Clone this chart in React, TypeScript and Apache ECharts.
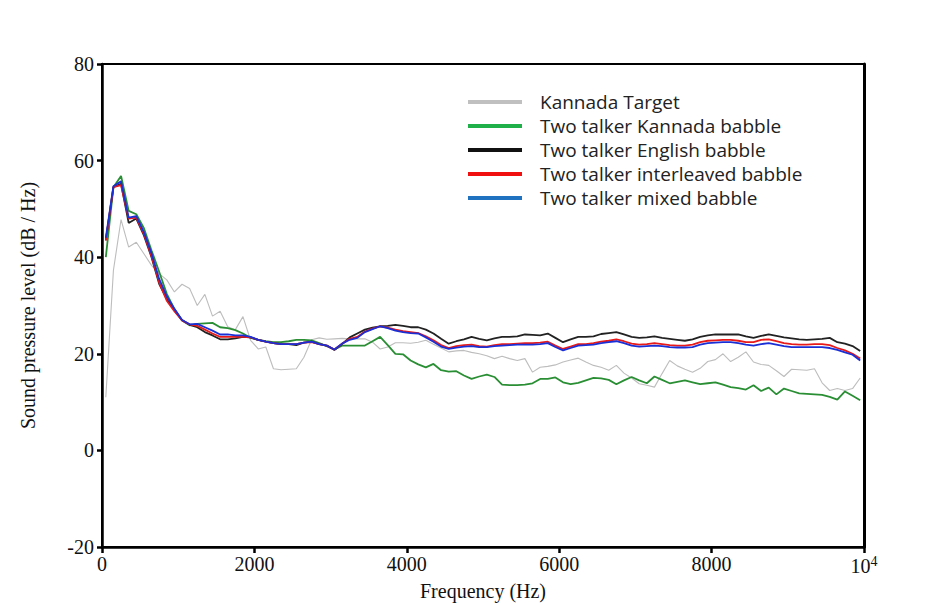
import React, { useEffect, useRef } from "react";
import * as echarts from "echarts";

const freqHz: number[] = Array.from({ length: 100 }, (_, i) => 50 + 100 * i);

const kannadaTarget = [
  11.0, 37.3, 47.8, 42.1, 43.1, 40.7, 38.3, 36.6, 35.3, 32.8,
  34.4, 33.5, 30.0, 32.3, 27.8, 28.8, 25.6, 25.0, 27.7, 22.8,
  21.0, 21.4, 16.9, 16.7, 16.8, 16.9, 19.3, 22.9, 23.3, 23.0,
  23.1, 23.2, 23.1, 23.1, 23.1, 22.4, 21.0, 21.4, 22.3, 22.3,
  22.2, 22.4, 22.8, 22.0, 21.2, 20.4, 20.6, 20.7, 20.3, 20.0,
  19.6, 19.0, 19.5, 19.0, 18.6, 19.0, 16.2, 17.2, 17.4, 17.7,
  18.3, 18.7, 19.1, 18.3, 17.6, 17.2, 16.6, 17.6, 16.0, 15.0,
  13.8, 13.5, 13.1, 15.9, 18.6, 17.5, 16.8, 16.2, 17.0, 18.4,
  18.8, 20.0, 18.4, 19.3, 20.4, 18.3, 17.8, 17.6, 16.5, 15.3,
  16.8, 16.7, 16.6, 16.9, 14.0, 12.4, 12.8, 12.4, 12.8, 15.0,
];

const kannadaBabble = [
  40.0, 54.5, 56.8, 49.6, 48.9, 46.0, 41.4, 37.0, 32.4, 29.3,
  26.9, 25.9, 26.2, 26.3, 26.4, 25.5, 25.3, 24.9, 24.2, 23.3,
  22.9, 22.6, 22.4, 22.4, 22.6, 22.9, 22.9, 22.8, 22.2, 21.6,
  20.9, 21.7, 21.7, 21.7, 21.7, 22.6, 23.5, 21.8, 20.0, 19.9,
  18.6, 17.8, 17.2, 17.9, 16.6, 16.3, 16.4, 15.5, 14.8, 15.3,
  15.7, 15.2, 13.6, 13.5, 13.5, 13.6, 13.9, 14.8, 14.8, 15.1,
  14.1, 13.7, 14.0, 14.5, 15.0, 14.9, 14.6, 13.7, 14.5, 15.2,
  14.5, 13.9, 15.3, 14.6, 13.9, 14.2, 14.5, 14.1, 13.7, 13.9,
  14.1, 13.6, 13.1, 12.9, 12.6, 13.5, 12.3, 13.0, 11.6, 12.8,
  12.3, 11.8, 11.7, 11.6, 11.5, 11.1, 10.5, 12.2, 11.3, 10.4,
];

const englishBabble = [
  43.5, 54.5, 55.2, 47.1, 48.0, 44.5, 40.0, 34.5, 31.3, 29.0,
  27.0, 26.0, 25.5, 24.5, 23.8, 23.0, 23.0, 23.2, 23.5, 23.4,
  22.9, 22.5, 22.2, 22.0, 22.0, 21.8, 22.3, 22.5, 22.0, 21.7,
  20.8, 22.0, 23.4, 24.2, 25.0, 25.4, 25.7, 25.8, 26.0, 25.8,
  25.5, 25.5, 25.0, 24.2, 23.1, 22.1, 22.6, 23.0, 23.5, 23.1,
  22.8, 23.2, 23.5, 23.5, 23.6, 24.0, 23.9, 23.8, 24.2, 23.3,
  22.4, 23.0, 23.5, 23.5, 23.6, 24.1, 24.3, 24.5, 24.0, 23.5,
  23.3, 23.4, 23.6, 23.3, 23.1, 22.9, 22.7, 23.0, 23.5, 23.8,
  24.0, 24.0, 24.0, 24.0, 23.6, 23.3, 23.7, 24.0, 23.7, 23.4,
  23.2, 23.0, 22.9, 23.0, 23.1, 23.3, 22.4, 22.1, 21.6, 20.6,
];

const interleavedBabble = [
  43.5, 54.5, 54.9, 48.0, 48.2, 44.8, 40.2, 34.8, 31.0, 28.8,
  26.9, 26.1, 25.8, 25.0, 24.2, 23.5, 23.5, 23.5, 23.5, 23.4,
  22.9, 22.5, 22.2, 22.0, 22.0, 22.0, 22.3, 22.4, 22.0, 21.7,
  20.9, 22.1, 23.1, 23.5, 24.6, 25.2, 25.7, 25.4, 25.0, 24.7,
  24.5, 24.3, 23.6, 22.8, 21.8, 21.2, 21.6, 21.8, 21.9, 21.6,
  21.5, 21.8, 22.0, 22.0, 22.1, 22.2, 22.2, 22.3, 22.5, 21.7,
  21.0, 21.5, 22.0, 22.0, 22.2, 22.5, 22.7, 23.0, 22.6, 22.1,
  21.9, 22.0, 22.2, 22.0, 21.8, 21.7, 21.7, 21.9, 22.4, 22.7,
  22.8, 22.9, 22.9, 22.7, 22.4, 22.4, 22.9, 23.0, 22.6, 22.2,
  22.0, 21.9, 21.9, 22.0, 22.0, 21.8, 21.2, 20.7, 20.0, 19.0,
];

const mixedBabble = [
  44.0, 54.7, 55.7, 48.2, 48.5, 45.2, 40.8, 35.5, 31.9, 29.3,
  27.0, 26.1, 26.2, 25.5, 24.8, 24.0, 24.0, 23.8, 23.8, 23.5,
  22.9, 22.5, 22.2, 22.0, 22.0, 22.0, 22.3, 22.5, 22.0, 21.7,
  20.9, 22.1, 22.9, 23.3, 24.5, 25.1, 25.7, 25.3, 24.8, 24.5,
  24.3, 24.2, 23.4, 22.5, 21.5, 21.0, 21.3, 21.5, 21.6, 21.4,
  21.4, 21.6, 21.7, 21.8, 21.9, 21.9, 21.9, 22.0, 22.2, 21.4,
  20.7, 21.2, 21.7, 21.8, 21.9, 22.2, 22.4, 22.6, 22.2, 21.7,
  21.5, 21.6, 21.7, 21.6, 21.4, 21.3, 21.3, 21.4, 21.9, 22.2,
  22.3, 22.4, 22.4, 22.2, 21.9, 21.7, 22.0, 22.2, 21.9, 21.6,
  21.4, 21.4, 21.4, 21.4, 21.4, 21.2, 20.8, 20.3, 19.8, 18.6,
];

const seriesNames = [
  "Kannada Target",
  "Two talker Kannada babble",
  "Two talker English babble",
  "Two talker interleaved babble",
  "Two talker mixed babble",
];
const seriesValues = [kannadaTarget, kannadaBabble, englishBabble, interleavedBabble, mixedBabble];
const lineColors = ["#bdbdbd", "#2a8f34", "#222222", "#e81a1a", "#1a2fd6"];
const legendColors = ["#c0c0c0", "#20b04a", "#111111", "#f01010", "#1f72c0"];
const lineWidths = [1.1, 1.8, 1.8, 1.8, 1.8];

const serif = "'Liberation Serif', 'Times New Roman', serif";

export default function App() {
  const ref = useRef<HTMLDivElement>(null);
  useEffect(() => {
    if (!ref.current) return;
    const chart = echarts.init(ref.current, undefined, { renderer: "svg" });
    const option: any = {
      animation: false,
      backgroundColor: "#ffffff",
      grid: {
        left: 102,
        right: 81,
        top: 64,
        bottom: 56,
        containLabel: false,
        outerBoundsMode: "none",
        show: true,
        borderColor: "#000",
        borderWidth: 2,
        backgroundColor: "transparent",
      },
      legend: {
        orient: "vertical",
        left: 468,
        top: 90,
        padding: 0,
        itemWidth: 54,
        itemHeight: 4,
        itemGap: 0,
        icon: "rect",
        textStyle: {
          fontFamily: "'Open Sans', Lato, sans-serif",
          fontSize: 19,
          color: "#222",
          lineHeight: 24,
          padding: [0, 0, 0, 13],
        },
        data: seriesNames.map((n, i) => ({ name: n, itemStyle: { color: legendColors[i] } })),
      },
      xAxis: [
        {
          type: "value",
          min: 0,
          max: 10000,
          interval: 2000,
          name: "Frequency (Hz)",
          nameLocation: "middle",
          nameGap: 30,
          nameTextStyle: { fontFamily: serif, fontSize: 20, color: "#111" },
          axisLine: { show: true, onZero: false, lineStyle: { color: "#000", width: 2.5 } },
          axisTick: { show: true, length: 6, lineStyle: { color: "#000", width: 2.5 } },
          axisLabel: {
            fontFamily: serif,
            fontSize: 20,
            color: "#111",
            margin: 7,
            formatter: (v: number) => (v === 10000 ? "10{sup|4}" : String(v)),
            rich: {
              sup: { fontFamily: serif, fontSize: 14, color: "#111", verticalAlign: "top", padding: [0, 0, 10, 0] },
            },
          },
          splitLine: { show: false },
        },
      ],
      yAxis: [
        {
          type: "value",
          min: -20,
          max: 80,
          interval: 20,
          name: "Sound pressure level (dB / Hz)",
          nameLocation: "middle",
          nameGap: 64,
          nameTextStyle: { fontFamily: serif, fontSize: 20, color: "#111" },
          axisLine: { show: true, onZero: false, lineStyle: { color: "#000", width: 2.5 } },
          axisTick: { show: true, length: 5, lineStyle: { color: "#000", width: 2.5 } },
          axisLabel: { fontFamily: serif, fontSize: 20, color: "#111", margin: 8 },
          splitLine: { show: false },
        },
        {
          type: "value",
          min: -20,
          max: 80,
          interval: 20,
          position: "right",
          axisLine: { show: true, onZero: false, lineStyle: { color: "#000", width: 3 } },
          axisTick: { show: false },
          axisLabel: { show: false },
          splitLine: { show: false },
        },
      ],
      series: seriesNames.map((name, i) => ({
        name,
        type: "line",
        xAxisIndex: 0,
        yAxisIndex: 0,
        showSymbol: false,
        symbol: "none",
        data: freqHz.map((f, k) => [f, seriesValues[i][k]]),
        lineStyle: { color: lineColors[i], width: lineWidths[i] },
        itemStyle: { color: lineColors[i] },
        z: 2 + i,
      })),
    };
    chart.setOption(option);
    return () => chart.dispose();
  }, []);
  return (
    <div
      ref={ref}
      style={{ position: "absolute", left: 0, top: 0, width: 945, height: 603 }}
    />
  );
}
